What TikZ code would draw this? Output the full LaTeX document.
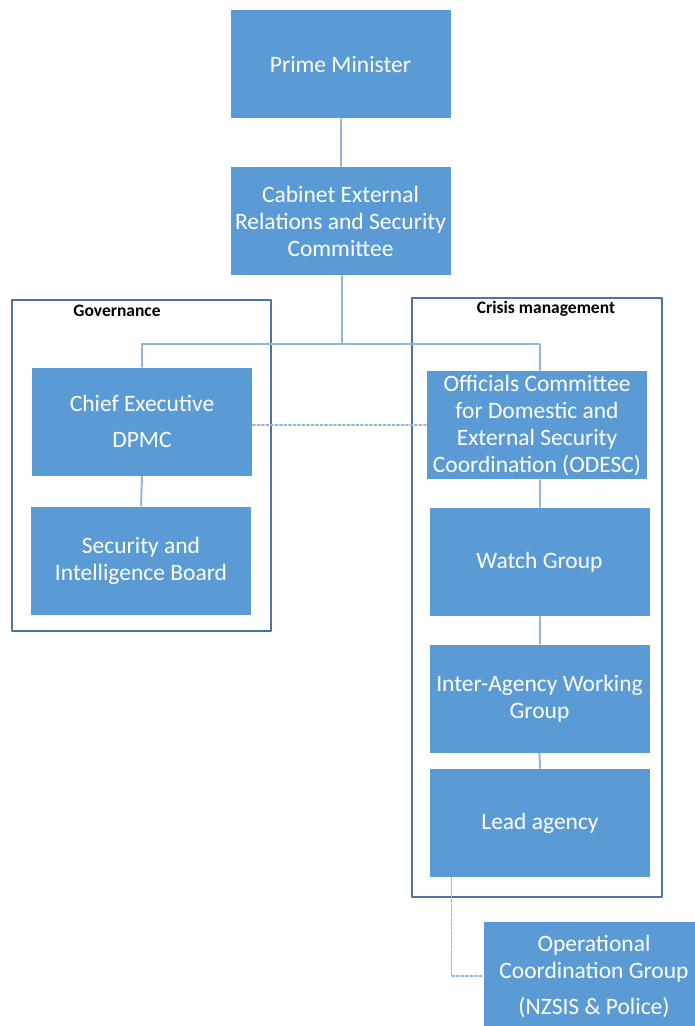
\documentclass[tikz,border=0pt]{standalone}
\usepackage{fontspec}
\setmainfont{Carlito}

\definecolor{boxblue}{RGB}{91,155,213}
\definecolor{linkblue}{RGB}{145,182,220}
\definecolor{frameblue}{RGB}{75,115,165}

\begin{document}
\begin{tikzpicture}[x=1pt, y=-1pt, line cap=round, line join=round,
    box/.style={fill=boxblue, draw=white, line width=0.6pt, text=white,
      align=center, minimum width=221pt, minimum height=109pt, inner sep=0pt,
      font=\fontsize{23.5}{27}\selectfont},
    group/.style={draw=frameblue, line width=1.1pt},
    grouplabel/.style={font=\fontsize{17.5}{20}\selectfont\bfseries},
    link/.style={draw=linkblue, line width=2pt},
    dotlink/.style={draw=linkblue, line width=1.4pt, dash pattern=on 2.5pt off 2pt}]

          % Page frame (same size as the reference)
          \fill[white] (0,0) rectangle (695,1026);
          \clip (0,0) rectangle (695,1026);

          % The two groups
          \draw[group] (12,300) rectangle (271,631);
          \draw[group] (412,298) rectangle (662,897);
          \node[grouplabel] (govlabel) at (117,311) {Governance};
          \node[grouplabel] (crisislabel) at (546,309) {Crisis management};

          % Boxes, top to bottom
          \node[box] (pm)      at (340.5,64)  {Prime Minister};
          \node[box] (cabinet) at (340.5,221) {Cabinet External\\ Relations and Security\\ Committee};
          \node[box] (chief)   at (142,421.5) {Chief Executive\\[9pt] DPMC};
          \node[box] (sib)     at (141,560.5) {Security and\\ Intelligence Board};
          \node[box] (odesc)   at (537,425)   {Officials Committee\\ for Domestic and\\ External Security\\ Coordination (ODESC)};
          \node[box] (watch)   at (539.5,562) {Watch Group};
          \node[box] (iawg)    at (539.5,698.5) {Inter-Agency Working\\ Group};
          \node[box] (lead)    at (540,823)   {Lead agency};
          \node[box] (ocg)     at (594,976)   {Operational\\ Coordination Group\\[9pt] (NZSIS \& Police)};

          % Solid links
          \draw[link] (pm.south) -- (cabinet.north);
          \draw[link] ([xshift=1.5pt]cabinet.south) -- ++(0,68) coordinate (split);
          \draw[link] (split) -| (chief.north);
          \draw[link] (split) -| (odesc.north -| watch.north);
          \draw[link] (odesc.south -| watch.north) -- (watch.north);
          \draw[link] (chief.south) -- (sib.north);
          \draw[link] (watch.south) -- (iawg.north);
          \draw[link] (iawg.south) -- (lead.north);

          % Dotted links
          \draw[dotlink] (odesc.west) -- (odesc.west -| chief.east);
          \draw[dotlink] ([xshift=22pt]lead.south west) |- (ocg.west);
\end{tikzpicture}
\end{document}
